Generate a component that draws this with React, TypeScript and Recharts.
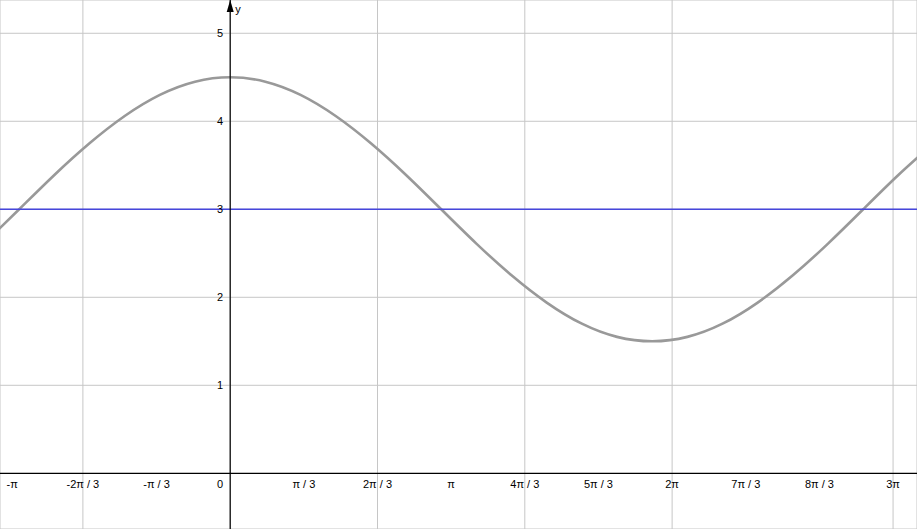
import React from 'react';
import { LineChart, Line, XAxis, YAxis, CartesianGrid, ReferenceLine, ReferenceDot } from 'recharts';

// Sample positions along x (in radians) and the curve heights
const xSamples = [-3.5, -3, -2.5, -2, -1.5, -1, -0.5, 0, 0.5, 1, 1.5, 2, 2.5, 3, 3.5, 4, 4.5, 5, 5.5, 6, 6.5, 7, 7.5, 8, 8.5, 9, 9.5, 10];
const curveValues = [2.61, 3.0, 3.39, 3.75, 4.06, 4.3, 4.45, 4.5, 4.45, 4.3, 4.06, 3.75, 3.39, 3.0, 2.61, 2.25, 1.94, 1.7, 1.55, 1.5, 1.55, 1.7, 1.94, 2.25, 2.61, 3.0, 3.39, 3.75];
const levelValues = [3, 3, 3, 3, 3, 3, 3, 3, 3, 3, 3, 3, 3, 3, 3, 3, 3, 3, 3, 3, 3, 3, 3, 3, 3, 3, 3, 3];

// x ticks: multiples of π/3
const xTickThirds = [-3, -2, -1, 0, 1, 2, 3, 4, 5, 6, 7, 8, 9];
const xTickLabels = ['-π', '-2π / 3', '-π / 3', '0', 'π / 3', '2π / 3', 'π', '4π / 3', '5π / 3', '2π', '7π / 3', '8π / 3', '3π'];
const yTickValues = [1, 2, 3, 4, 5];
const yTickLabels = ['1', '2', '3', '4', '5'];

const X_DOMAIN: [number, number] = [-3.273, 9.765];
const Y_DOMAIN: [number, number] = [-0.633, 5.378];

const data = xSamples.map((x, i) => ({ x, f: curveValues[i], g: levelValues[i] }));
const xTickValues = xTickThirds.map((k) => (k * Math.PI) / 3);

const FONT = '"Liberation Sans", Arial, sans-serif';

const Arrow = (props: any) => {
  const { cx, cy } = props;
  if (cx == null || cy == null) return null;
  return <path d={`M${cx},${cy} L${cx - 3.5},${cy + 12} L${cx + 3.5},${cy + 12} Z`} fill="#000" stroke="none" />;
};

export default function App() {
  return (
    <div style={{ position: 'absolute', left: 0, top: 0, width: 917, height: 529, background: '#fff', fontFamily: FONT }}>
      <LineChart width={917} height={529} data={data} margin={{ top: 0, right: 0, bottom: 0, left: 0 }}>
        <XAxis type="number" dataKey="x" domain={X_DOMAIN} allowDataOverflow hide ticks={xTickValues} />
        <YAxis type="number" domain={Y_DOMAIN} allowDataOverflow hide ticks={yTickValues} />
        <CartesianGrid stroke="#c6c6c6" strokeWidth={1} />
        <Line
          type="natural"
          dataKey="f"
          stroke="#999999"
          strokeWidth={2.6}
          dot={false}
          isAnimationActive={false}
        />
        <Line
          type="linear"
          dataKey="g"
          stroke="#4646dc"
          strokeWidth={1.5}
          dot={false}
          isAnimationActive={false}
        />
        <ReferenceLine y={0} stroke="#000" strokeWidth={1.2} />
        <ReferenceLine x={0} stroke="#000" strokeWidth={1.2} />
        {xTickValues.map((v, i) =>
          xTickThirds[i] === 0 ? (
            <ReferenceDot
              key={`xt${i}`}
              x={v}
              y={0}
              r={0}
              fill="none"
              stroke="none"
              label={{ value: xTickLabels[i], position: 'insideTopRight', offset: 7, fontSize: 11, fill: '#000', fontFamily: FONT }}
            />
          ) : (
            <ReferenceDot
              key={`xt${i}`}
              x={v}
              y={0}
              r={0}
              fill="none"
              stroke="none"
              label={{ value: xTickLabels[i], position: 'bottom', offset: 7, fontSize: 11, fill: '#000', fontFamily: FONT, dx: xTickThirds[i] === -3 ? 3 : 0 }}
            />
          )
        )}
        {yTickValues.map((v, i) => (
          <ReferenceDot
            key={`yt${i}`}
            x={0}
            y={v}
            r={0}
            fill="none"
            stroke="none"
            label={{ value: yTickLabels[i], position: 'left', offset: 7, fontSize: 11, fill: '#000', fontFamily: FONT }}
          />
        ))}
        <ReferenceDot
          x={0}
          y={Y_DOMAIN[1]}
          r={0}
          ifOverflow="visible"
          shape={Arrow}
          label={{ value: 'y', position: 'insideTopLeft', offset: 5, fontSize: 11, fill: '#000', fontFamily: FONT }}
        />
      </LineChart>
    </div>
  );
}
